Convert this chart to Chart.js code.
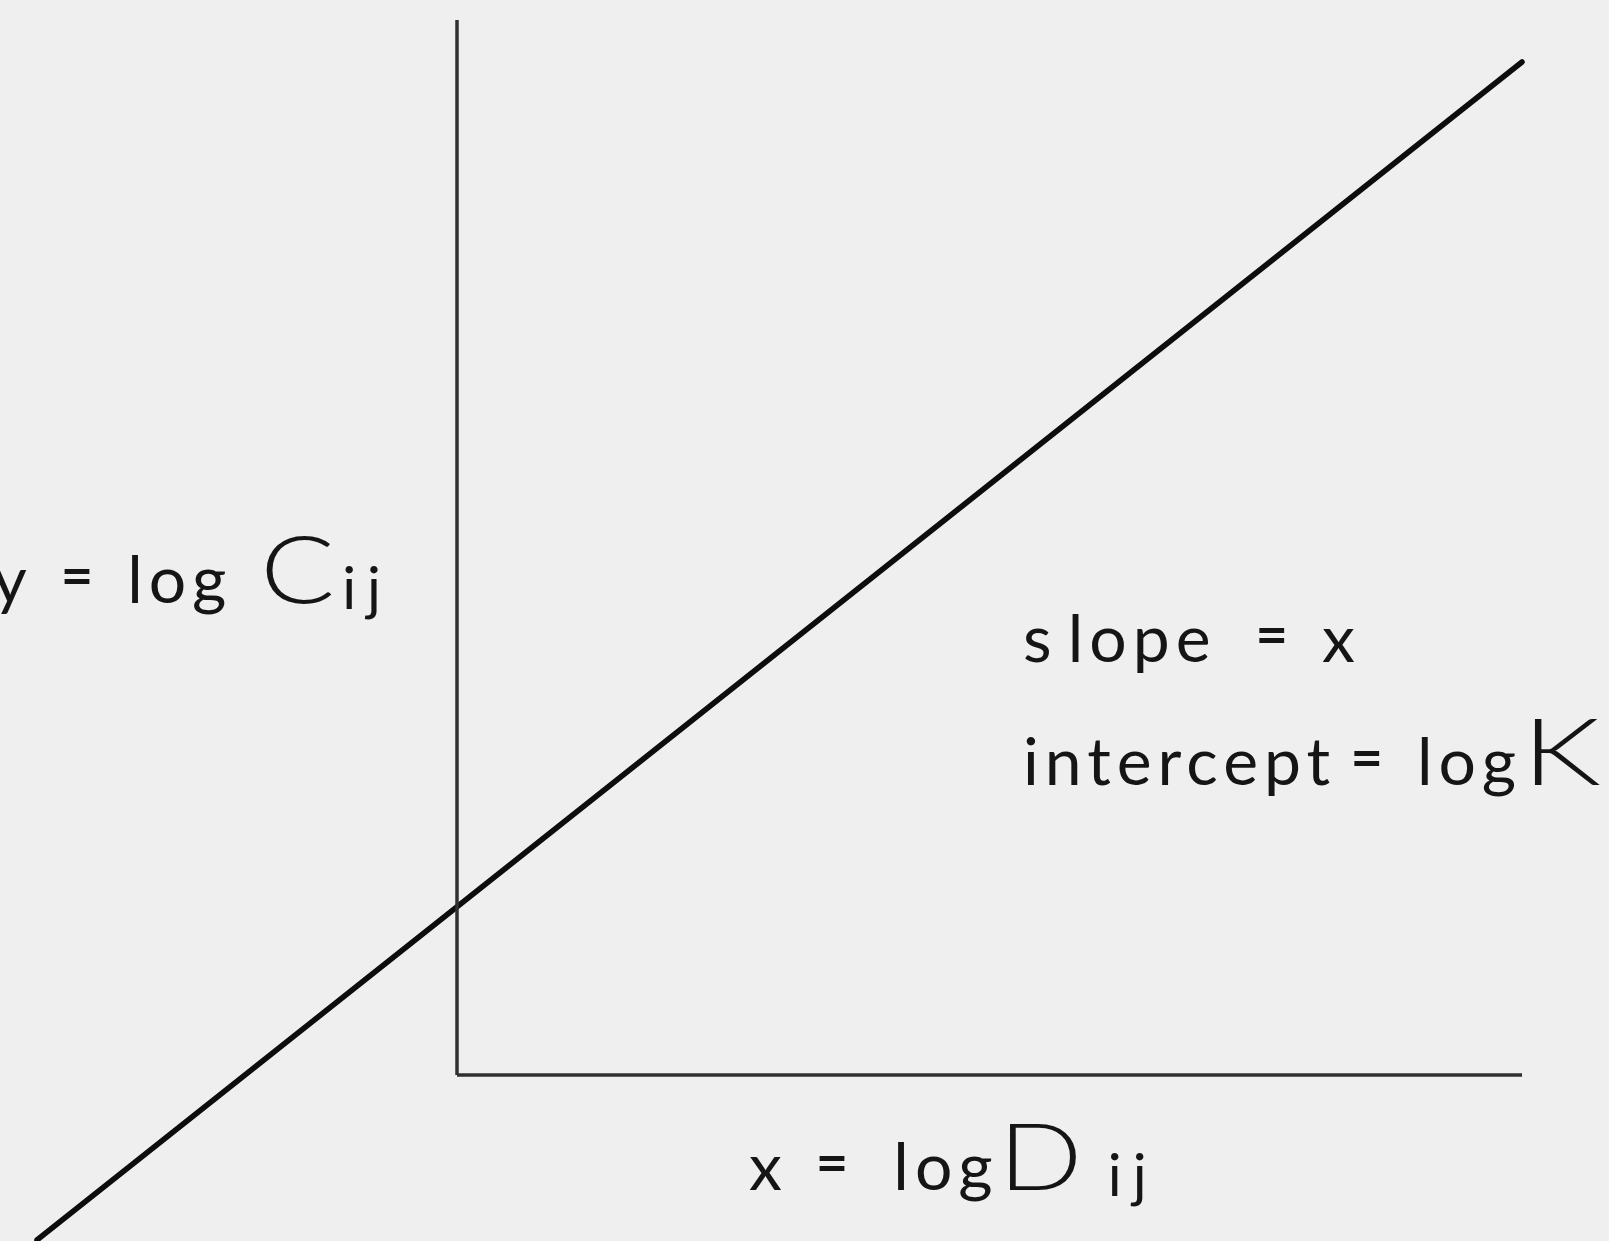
<!DOCTYPE html>
<html>
<head>
<meta charset="utf-8">
<script src="https://cdn.jsdelivr.net/npm/chart.js@4/dist/chart.umd.min.js"></script>
<style>
  html, body { margin: 0; padding: 0; background: #efefef; }
  #wrap { width: 1609px; height: 1241px; position: relative; }
</style>
</head>
<body>
<div id="wrap"><canvas id="c"></canvas></div>
<script>
// Fitted line: y = log C_ij against x = log D_ij (schematic units)
const lineX = [-4.2, 10.65];
const lineY = [-1.65, 10.13];
// Axes (origin at x = 0, y = 0)
const yAxisX = [0, 0];
const yAxisY = [0, 10.55];
const xAxisX = [0, 10.65];
const xAxisY = [0, 0];
// Text labels: [text, style] segments
const labelParts = [
  [["y\u2004", "n"], ["=", "e"], ["\u2004log\u2004", "n"], ["C", "b"], ["ij", "s"]],
  [["s\u200Alope\u2002", "n"], ["=", "e"], ["\u2004x", "n"]],
  [["intercept\u2009", "n"], ["=", "e"], ["\u2004log", "n"], ["K", "k"]],
  [["x\u2004", "n"], ["=", "e"], ["\u2002log", "n"], ["D", "b"], ["\u2009ij", "s"]]
];
const labelX = [-0.65, 5.66, 5.66, 2.92];
const labelY = [4.72, 4.13, 2.90, -1.15];
const labelAlign = ["right", "left", "left", "left"];

const textStyles = {
  n: { font: "400 66px Lato", drop: 0, sx: 1, ls: 6 },
  e: { font: "700 56px Lato", drop: -8, sx: 1, ls: 6 },
  b: { font: "300 92px Lato", drop: 0, sx: 1.2, ls: 6 },
  k: { font: "300 92px Lato", drop: 0, sx: 1.35, ls: 6 },
  s: { font: "400 58px Lato", drop: 6, sx: 1, ls: 11 }
};

const textPlugin = {
  id: "texts",
  afterDatasetsDraw(chart) {
    const { ctx, scales: { x, y } } = chart;
    ctx.save();
    ctx.fillStyle = "#151515";
    ctx.textBaseline = "alphabetic";
    labelParts.forEach((parts, i) => {
      let px = x.getPixelForValue(labelX[i]);
      const py = y.getPixelForValue(labelY[i]);
      if (labelAlign[i] === "right") {
        let total = 0;
        parts.forEach(([t, k]) => {
          ctx.font = textStyles[k].font;
          ctx.letterSpacing = textStyles[k].ls + "px";
          total += ctx.measureText(t).width * textStyles[k].sx;
        });
        px -= total;
      }
      parts.forEach(([t, k]) => {
        const st = textStyles[k];
        ctx.font = st.font;
        ctx.letterSpacing = st.ls + "px";
        ctx.save();
        ctx.translate(px, py + st.drop);
        ctx.scale(st.sx, 1);
        ctx.fillText(t, 0, 0);
        ctx.restore();
        px += ctx.measureText(t).width * st.sx;
      });
    });
    ctx.restore();
  }
};

new Chart(document.getElementById("c"), {
  type: "scatter",
  data: {
    datasets: [
      { data: yAxisX.map((v, i) => ({ x: v, y: yAxisY[i] })), showLine: true, borderColor: "#303030", borderWidth: 3.5, pointRadius: 0 },
      { data: xAxisX.map((v, i) => ({ x: v, y: xAxisY[i] })), showLine: true, borderColor: "#303030", borderWidth: 3.5, pointRadius: 0 },
      { data: lineX.map((v, i) => ({ x: v, y: lineY[i] })), showLine: true, borderColor: "#0d0d0d", borderWidth: 5.5, pointRadius: 0, borderCapStyle: "round" }
    ]
  },
  options: {
    responsive: true,
    maintainAspectRatio: false,
    animation: false,
    layout: { padding: 0 },
    plugins: { legend: { display: false }, tooltip: { enabled: false } },
    scales: {
      x: { type: "linear", min: -4.57, max: 11.52, display: false },
      y: { type: "linear", min: -1.66, max: 10.75, display: false }
    }
  },
  plugins: [textPlugin]
});
</script>
</body>
</html>
